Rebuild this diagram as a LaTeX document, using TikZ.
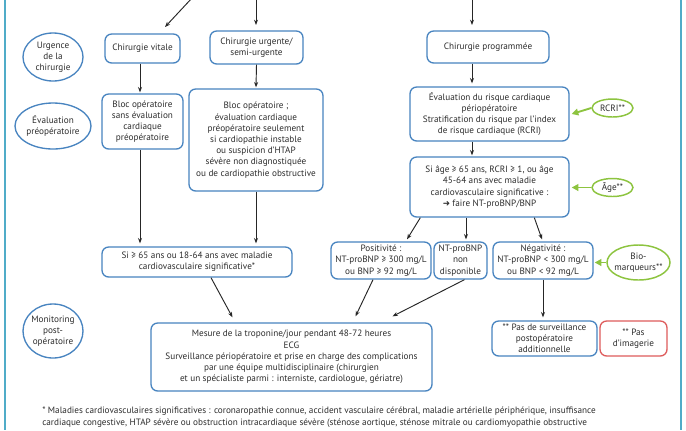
\documentclass[tikz,border=0pt]{standalone}
\usepackage{fontspec}
\setmainfont{PT Sans}
\newfontfamily\symfont{DejaVu Sans}
\usetikzlibrary{arrows.meta,calc,shapes.geometric}
\definecolor{bblue}{RGB}{72,132,192}
\definecolor{frame}{RGB}{80,172,200}
\definecolor{tgray}{RGB}{45,45,45}
\definecolor{lgreen}{RGB}{141,196,63}
\definecolor{lred}{RGB}{222,92,92}
\begin{document}
\begin{tikzpicture}[x=0.75pt,y=-0.75pt,
  txt/.style={font=\fontsize{6.9}{8.4}\selectfont, text=tgray},
  bx/.style 2 args={draw=bblue, line width=1pt, rounded corners=5pt, fill=white,
    align=center, inner sep=0pt, txt, minimum width=#1*0.75pt, minimum height=#2*0.75pt},
  el/.style 2 args={ellipse, draw=bblue, line width=1pt, fill=white, inner sep=0pt,
    minimum width=#1*0.75pt, minimum height=#2*0.75pt},
  gel/.style 2 args={ellipse, draw=lgreen, line width=1.1pt, fill=white, inner sep=0pt,
    minimum width=#1*0.75pt, minimum height=#2*0.75pt},
  lbl/.style={txt, align=center, inner sep=0pt},
  arr/.style={draw=black!85, line width=0.7pt, -{Stealth[length=4pt,width=3pt]}},
  garr/.style={draw=lgreen, line width=1.4pt, -{Triangle[length=5pt,width=5pt]}},
]
\useasboundingbox (0,0) rectangle (686,430);
\fill[white] (0,0) rectangle (686,430);
\draw[frame, line width=1.6pt] (5,0) -- (5,430);
\draw[frame, line width=1.6pt] (681,0) -- (681,430);

% left ellipses
\node[el={60}{48}] (urg) at (53,57) {};
\node[lbl] (urgt) at (urg) {Urgence\\de la\\chirurgie};
\node[el={76}{46}] (evp) at (53,126) {};
\node[lbl] (evpt) at (evp) {Évaluation\\préopératoire};
\node[el={60}{54}] (mon) at (53,331) {};
\node[lbl] (mont) at (mon) {Monitoring\\post-\\opératoire};

% boxes
\node[bx={75}{29}] (cv) at (142.5,48.5) {Chirurgie vitale};
\node[bx={93}{33}] (cu) at (256.5,47.5) {Chirurgie urgente/\\semi-urgente};
\node[bx={122}{32}] (cp) at (488,47) {Chirurgie programmée};
\node[bx={81}{55}] (bv) at (142.5,121.5) {Bloc opératoire\\sans évaluation\\cardiaque\\préopératoire};
\node[bx={134}{102}] (bu) at (256,140) {Bloc opératoire ;\\évaluation cardiaque\\préopératoire seulement\\si cardiopathie instable\\ou suspicion d’HTAP\\sévère non diagnostiquée\\ou de cardiopathie obstructive};
\node[bx={159}{54}] (er) at (489.5,114) {Évaluation du risque cardiaque\\périopératoire\\Stratification du risque par l’index\\de risque cardiaque (RCRI)};
\node[bx={159}{60}] (age) at (489.5,187) {Si âge ≥ 65 ans, RCRI ≥ 1, ou âge\\45-64 ans avec maladie\\cardiovasculaire significative :\\{\symfont\fontsize{6.5}{8}\selectfont ➜} faire NT-proBNP/BNP};
\node[bx={190}{30}] (si) at (197,262) {Si ≥ 65 ans ou 18-64 ans avec maladie\\cardiovasculaire significative*};
\node[bx={100}{37}] (pos) at (381,260.5) {Positivité :\\NT-proBNP ≥ 300 mg/L\\ou BNP ≥ 92 mg/L};
\node[bx={53}{37}] (nd) at (460.5,260.5) {NT-proBNP\\non\\disponible};
\node[bx={100}{37}] (neg) at (543,260.5) {Négativité :\\NT-proBNP < 300 mg/L\\ou BNP < 92 mg/L};
\node[bx={281}{68}] (mes) at (291.5,357) {Mesure de la troponine/jour pendant 48-72 heures\\ECG\\Surveillance périopératoire et prise en charge des complications\\par une équipe multidisciplinaire (chirurgien\\et un spécialiste parmi : interniste, cardiologue, gériatre)};
\node[bx={105}{35}] (pas) at (544.5,338.5) {** Pas de surveillance\\postopératoire\\additionnelle};
\node[bx={67}{35}, draw=lred] (img) at (633.5,338.5) {** Pas\\d’imagerie};

% green ellipses
\node[gel={41}{18}] (rcri) at (612.5,108) {};
\node[lbl] (rcrit) at (rcri) {RCRI**};
\node[gel={41}{18}] (agee) at (612.5,187.5) {};
\node[lbl] (ageet) at (agee) {Âge**};
\node[gel={63}{35}] (bio) at (638.5,262.5) {};
\node[lbl] (biot) at (bio) {Bio-\\marqueurs**};

% footnote
\node[txt, anchor=west, inner sep=0pt] (fn1) at (42,411) {* Maladies cardiovasculaires significatives : coronaropathie connue, accident vasculaire cérébral, maladie artérielle périphérique, insuffisance};
\node[txt, anchor=west, inner sep=0pt] (fn2) at (42,423) {cardiaque congestive, HTAP sévère ou obstruction intracardiaque sévère (sténose aortique, sténose mitrale ou cardiomyopathie obstructive};

% helper coordinates
\coordinate (t1a) at (192,-2);
\coordinate (t1b) at (165,27);
\coordinate (t2a) at (256,-2);
\coordinate (t2b) at (256,25);
\coordinate (t3a) at (472,-2);
\coordinate (t3b) at (472,25);
\coordinate (x472) at (472,0);
\coordinate (x466) at (466,0);
\coordinate (x140) at (140,0);

% top arrows
\draw[arr] (t1a) -- (t1b);
\draw[arr] (t2a) -- (t2b);
\draw[arr] (t3a) -- (t3b);

% flow arrows
\draw[arr] (cv.south -| x140) -- ($(bv.north -| x140)+(0,-1)$);
\draw[arr] (cu.south) -- ($(bu.north)+(0,-1)$);
\draw[arr] (cp.south -| x472) -- ($(er.north -| x472)+(0,-3)$);
\draw[arr] (er.south -| x472) -- ($(age.north -| x472)+(0,-1)$);
\draw[arr] (bv.south -| x140) -- ($(si.north -| x140)+(0,-3)$);
\draw[arr] (bu.south) -- ($(si.north -| bu.south)+(0,-3)$);
\draw[arr] ($(age.south west)+(11,0)$) -- ($(pos.north)+(26,-2)$);
\draw[arr] (age.south -| x466) -- ($(nd.north -| x466)+(0,-2)$);
\draw[arr] ($(age.south west)+(125,0)$) -- ($(neg.north)+(-1,-2)$);
\draw[arr] ($(si.south)+(14,0)$) -- ($(mes.north)+(-59,-5)$);
\draw[arr] ($(pos.south)+(-8,0)$) -- ($(mes.north)+(64,-6)$);
\draw[arr] ($(nd.south)+(4,0)$) -- ($(mes.north)+(101,-6)$);
\draw[arr] (neg.south) -- ($(pas.north -| neg.south)+(0,-3)$);

% green arrows
\draw[garr] (rcri.west) -- ($(er.east)+(2,0)$);
\draw[garr] (agee.west) -- ($(age.east |- agee.west)+(2,0)$);
\draw[garr] (bio.west) -- ($(neg.east |- bio.west)+(1,0)$);
\end{tikzpicture}
\end{document}
